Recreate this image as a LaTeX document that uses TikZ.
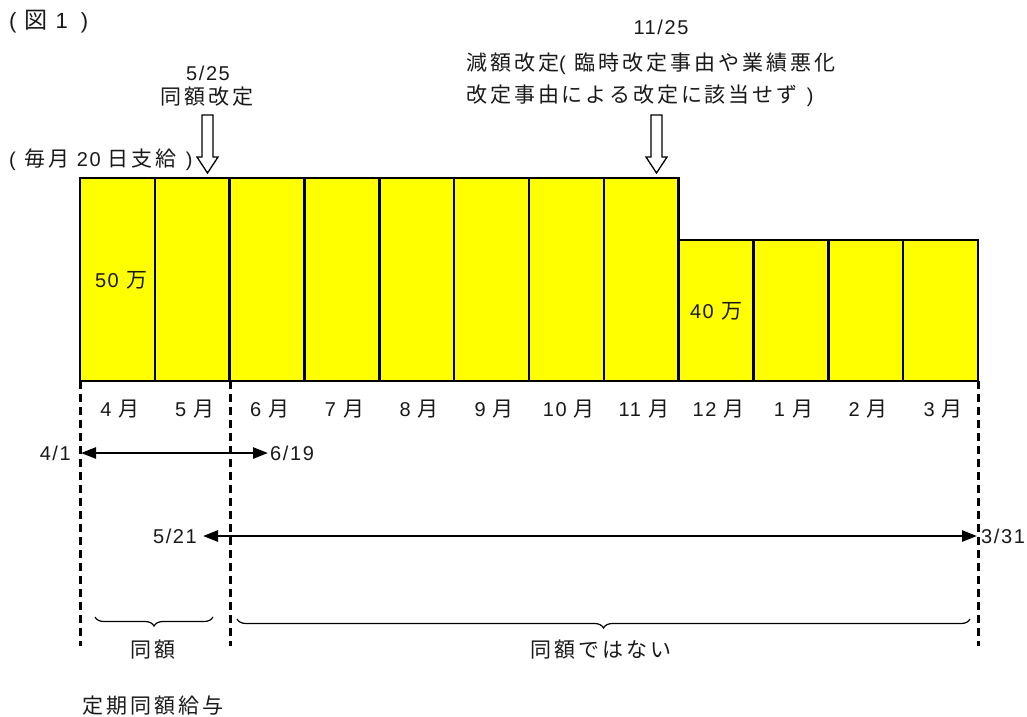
\documentclass[tikz,border=0pt]{standalone}
\usepackage{fontspec}
\setmainfont{Liberation Sans}[LetterSpace=8]
\newfontfamily\jp{Noto Sans CJK JP}[LetterSpace=14,Scale=1.05]
\newcommand\lpar{(\hspace{9pt}}
\newcommand\rpar{\hspace{9pt})}
\usetikzlibrary{arrows.meta,decorations.pathreplacing}
\definecolor{barY}{RGB}{255,255,0}
\definecolor{txt}{RGB}{25,25,25}
\begin{document}
\begin{tikzpicture}[x=1pt,y=-1pt,
  font=\fontsize{20}{24}\selectfont,
  every node/.style={inner sep=0pt,text=txt},
  bar/.style={draw=black,fill=barY,line width=2.5pt,line join=miter},
  dashline/.style={line width=3pt,dash pattern=on 8pt off 5pt},
  dbl/.style={line width=2.6pt,{Triangle[length=15pt,width=11pt]}-{Triangle[length=15pt,width=11pt]}},
  hollow/.style={draw=black,line width=1.3pt,fill=white,line join=miter},
  brc/.style={line width=1.2pt,decorate,decoration={brace,mirror,amplitude=9pt}}]
\useasboundingbox (0,0) rectangle (1027,716);
\def\bw{74.83}
% title
\node[anchor=west,font=\fontsize{22}{26}\selectfont] (title) at (9,22) {(\hspace{8pt}{\jp 図}\hspace{8pt}1\hspace{13pt})};
% bars
\foreach \i in {0,...,7}{
  \draw[bar] ({80+\bw*\i},178) rectangle ({80+\bw*(\i+1)},381);
}
\foreach \i in {8,...,11}{
  \draw[bar] ({80+\bw*\i},240) rectangle ({80+\bw*(\i+1)},381);
}
\node (v50) at (121,280) {50 {\jp 万}};
\node (v40) at (716,311) {40 {\jp 万}};
% months
\foreach \m [count=\i from 0] in {4,5,6,7,8,9,10,11,12,1,2,3}{
  \node (m\i) at ({80+\bw*\i+40},409) {{\m} {\jp 月}};
}
% dashed verticals
\coordinate (l1t) at (80,381);   \coordinate (l1b) at (80,646);
\coordinate (l2t) at (230,381);  \coordinate (l2b) at (230,646);
\coordinate (l3t) at (978,381);  \coordinate (l3b) at (978,646);
\draw[dashline] (l1t) -- (l1b);
\draw[dashline] (l2t) -- (l2b);
\draw[dashline] (l3t) -- (l3b);
% arrows
\coordinate (a1) at (81,453);
\coordinate (a2) at (268,453);
\node[anchor=east] (t41) at (71,453) {4/1};
\node[anchor=west] (t619) at (270,453) {6/19};
\draw[dbl] (a1) -- (a2);
\coordinate (b1) at (203,536);
\coordinate (b2) at (977,536);
\node[anchor=east] (t521) at (197,536) {5/21};
\node[anchor=west] (t331) at (981,536) {3/31};
\draw[dbl] (b1) -- (b2);
% braces
\coordinate (c1) at (95,617);  \coordinate (c2) at (213,617);
\coordinate (c3) at (237,619); \coordinate (c4) at (970,619);
\draw[brc] (c1) -- (c2);
\draw[brc] (c3) -- (c4);
\node (same) at (153,650) {\jp 同額};
\node (notsame) at (601,650) {\jp 同額ではない};
\node (teiki) at (153,706) {\jp 定期同額給与};
% top labels
\node (d525) at (208,73) {5/25};
\node (k525) at (207,97) {\jp 同額改定};
\node[anchor=west] (pay) at (9,160) {\lpar{\jp 毎月} 20 {\jp 日支給}\rpar};
\node (d1125) at (661,27) {11/25};
\node[anchor=north west,align=left,font=\fontsize{20}{32}\selectfont] (gen) at (466,53) {{\jp 減額改定}\lpar{\jp 臨時改定事由や業績悪化}\\{\jp 改定事由による改定に該当せず}\rpar};
% hollow arrows
\draw[hollow] (202,115) -- (213,115) -- (213,157) -- (218,157) -- (207.5,173) -- (197,157) -- (202,157) -- cycle;
\draw[hollow] (651,115) -- (662,115) -- (662,157) -- (667,157) -- (656.5,173) -- (646,157) -- (651,157) -- cycle;
\end{tikzpicture}
\end{document}
